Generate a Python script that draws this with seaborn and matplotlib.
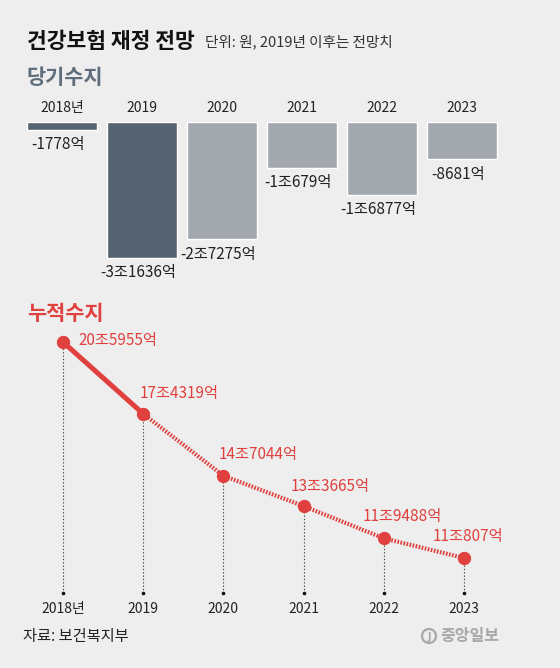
import matplotlib
matplotlib.use("Agg")
import matplotlib.pyplot as plt
import seaborn as sns
import pandas as pd
import numpy as np
from matplotlib.patches import Circle

# ---------------- data ----------------
years = ["2018년", "2019", "2020", "2021", "2022", "2023"]
annual_balance = [-1778, -31636, -27275, -10679, -16877, -8681]          # 당기수지 (억원)
cumulative_balance = [205955, 174319, 147044, 133665, 119488, 110807]    # 누적수지 (억원)
bar_groups = ["actual", "actual", "forecast", "forecast", "forecast", "forecast"]

title = "건강보험 재정 전망"
subtitle = "단위: 원, 2019년 이후는 전망치"
section1 = "당기수지"
section2 = "누적수지"
source = "자료: 보건복지부"
logo = "중앙일보"

# ---------------- style ----------------
W, H = 560, 668
BG = "#eeeeee"
DARK = "#556370"
LIGHT = "#a3a7ae"
RED = "#e0403e"
KR = ["Noto Sans CJK KR", "DejaVu Sans"]

sns.set_theme(style="white")
plt.rcParams["font.family"] = KR
plt.rcParams["figure.facecolor"] = BG
plt.rcParams["axes.facecolor"] = BG

def fx(px):
    return px / W

def fy(py):
    return 1 - py / H

def pt(px):
    return px * 0.72

def fmt(v):
    sign = "-" if v < 0 else ""
    a = abs(v)
    if a >= 10000:
        return f"{sign}{a // 10000}조{a % 10000}억"
    return f"{sign}{a}억"

fig = plt.figure(figsize=(W / 100, H / 100), dpi=100)

# ---------------- titles ----------------
fig.text(fx(27), fy(41), title, fontsize=15.5, fontweight="bold", color="#111111",
         va="center", ha="left")
fig.text(fx(205), fy(42), subtitle, fontsize=10.5, color="#333333", va="center", ha="left")
fig.text(fx(27), fy(78), section1, fontsize=15, fontweight="bold", color="#5f6e7c",
         va="center", ha="left")
fig.text(fx(27), fy(313), section2, fontsize=15, fontweight="bold", color=RED,
         va="center", ha="left")

# ---------------- bar chart (당기수지) ----------------
bar_top, bar_bot = 122, 300
px_per_unit_bar = 136 / 31636
ax1 = fig.add_axes([0, fy(bar_bot), 1, (bar_bot - bar_top) / H])
df_bar = pd.DataFrame({"year": years, "value": annual_balance, "group": bar_groups})
sns.barplot(data=df_bar, x="year", y="value", hue="group", order=years,
            palette={"actual": DARK, "forecast": LIGHT}, dodge=False,
            width=70 / 80, legend=False, saturation=1, ax=ax1)
ax1.set_xlim(-62 / 80, (W - 62) / 80)
ax1.set_ylim(-(bar_bot - bar_top) / px_per_unit_bar, 0)
ax1.axis("off")
for i, v in enumerate(annual_balance):
    ax1.annotate(fmt(v), xy=(i, v), xytext=(pt(-4), pt(-15)), textcoords="offset points",
                 ha="center", va="center", fontsize=11, color="#222222",
                 annotation_clip=False)
    ax1.annotate(years[i], xy=(i, 0), xytext=(0, pt(14)), textcoords="offset points",
                 ha="center", va="center", fontsize=10, color="#222222",
                 annotation_clip=False)

# ---------------- line chart (누적수지) ----------------
ln_top, ln_bot = 325, 625
px_per_unit_ln = (558 - 342) / (205955 - 110807)
ax2 = fig.add_axes([0, fy(ln_bot), 1, (ln_bot - ln_top) / H])
x0, dx = 63, 80.2
ytop = cumulative_balance[0] + (342 - ln_top) / px_per_unit_ln
ybot = cumulative_balance[0] - (ln_bot - 342) / px_per_unit_ln

xs = np.arange(len(years))
df_line = pd.DataFrame({"x": xs, "value": cumulative_balance})
base_val = cumulative_balance[0] - (593 - 342) / px_per_unit_ln

# vertical guides
ax2.vlines(xs, base_val, df_line["value"], colors="#444444", linewidth=0.8,
           linestyles=(0, (1.2, 1.8)), zorder=1)
ax2.scatter(xs, [base_val] * len(xs), s=7, color="#111111", zorder=2, linewidths=0)

sns.lineplot(data=df_line.iloc[:2], x="x", y="value", color=RED, linewidth=3.6,
             ax=ax2, zorder=3)
sns.lineplot(data=df_line.iloc[1:], x="x", y="value", color=RED, linewidth=3.0,
             linestyle=(0, (0.4, 0.35)), ax=ax2, zorder=3)
sns.scatterplot(data=df_line, x="x", y="value", color=RED, s=92, linewidth=0,
                ax=ax2, zorder=4)
ax2.set_xlim(-x0 / dx, (W - x0) / dx)
ax2.set_ylim(ybot, ytop)
ax2.axis("off")

label_offsets = [(15, -2), (-4, -20), (-5, -21), (-13, -20), (-21, -22), (-31, -21)]
for i, v in enumerate(cumulative_balance):
    ox, oy = label_offsets[i]
    ax2.annotate(fmt(v), xy=(i, v), xytext=(pt(ox), pt(-oy)), textcoords="offset points",
                 ha="left", va="center", fontsize=11, color=RED, annotation_clip=False)
    ax2.annotate(years[i], xy=(i, base_val), xytext=(0, pt(-16)), textcoords="offset points",
                 ha="center", va="center", fontsize=10, color="#222222",
                 annotation_clip=False)

# ---------------- footer ----------------
fig.text(fx(23), fy(636), source, fontsize=11, color="#222222", va="center", ha="left")
logo_ax = fig.add_axes([0, 0, 1, 1], facecolor="none")
logo_ax.set_xlim(0, W)
logo_ax.set_ylim(H, 0)
logo_ax.axis("off")
logo_ax.add_patch(Circle((429, 636), 7, fill=False, edgecolor="#a8a8a8", linewidth=1.6))
logo_ax.text(429, 636.5, "J", fontsize=7, color="#a8a8a8", ha="center", va="center",
             fontweight="bold", family=["DejaVu Sans"])
logo_ax.text(440, 636, logo, fontsize=11.5, color="#a8a8a8", ha="left", va="center",
             fontweight="bold")

fig.savefig("out.png", dpi=100, facecolor=BG)
